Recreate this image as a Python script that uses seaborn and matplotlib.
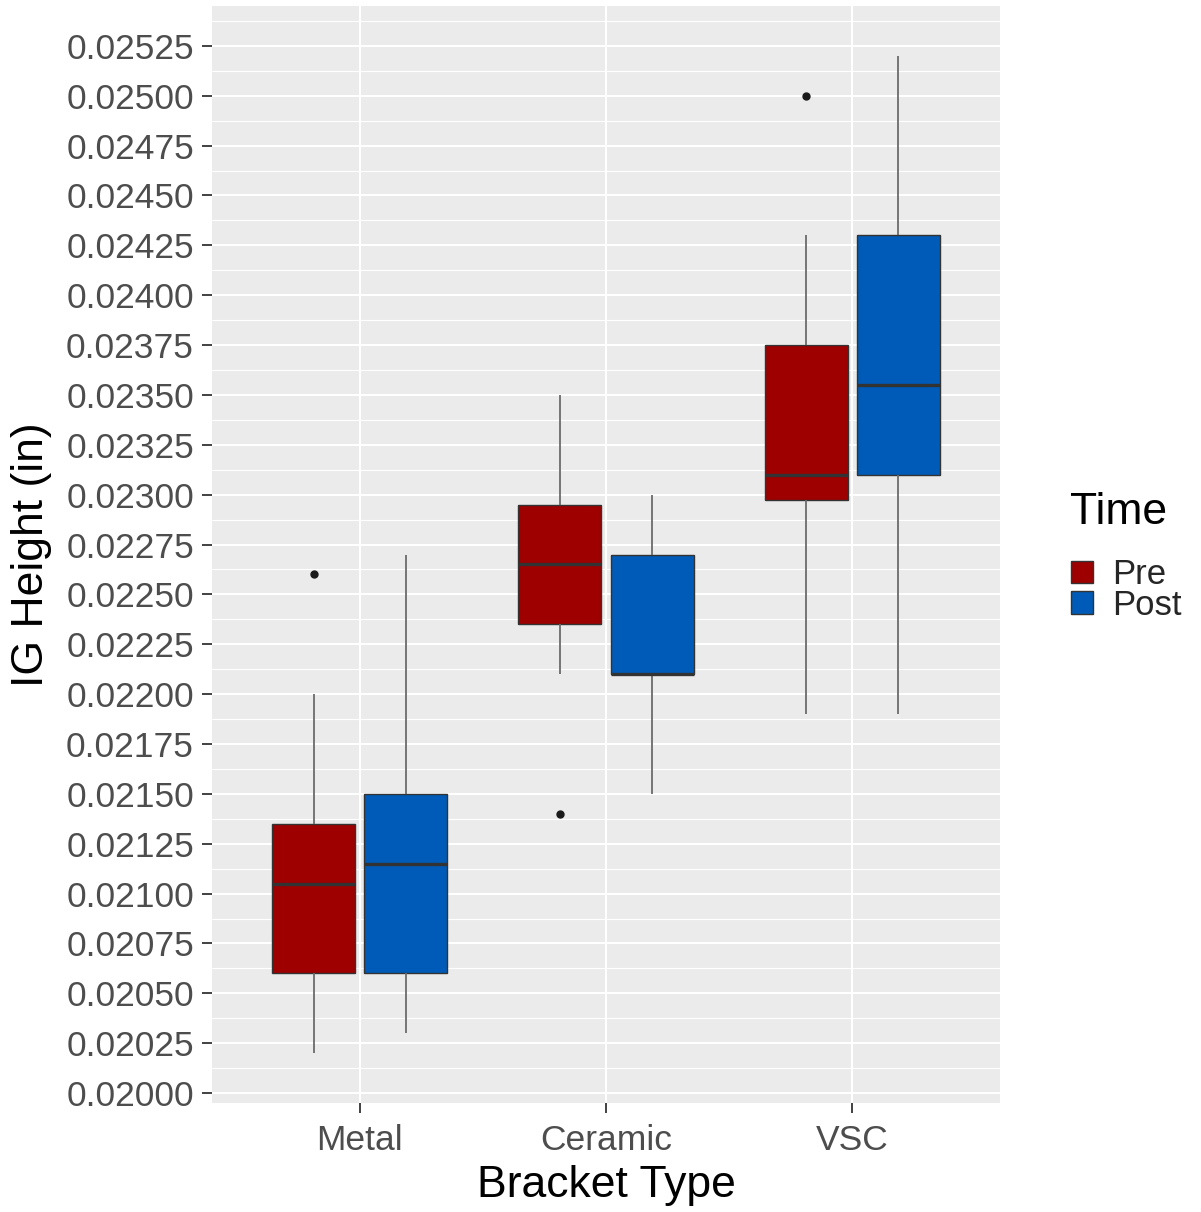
import numpy as np
import pandas as pd
import matplotlib
matplotlib.use("Agg")
import matplotlib.pyplot as plt
import seaborn as sns
from matplotlib.patches import Patch
from matplotlib.ticker import MultipleLocator, FormatStrFormatter

# ---- data (samples chosen so that quartiles / whiskers / outliers match the picture) ----
categories = ["Metal", "Ceramic", "VSC"]
times = ["Pre", "Post"]

metal_pre = [0.02020, 0.02040, 0.02060, 0.02080, 0.02105, 0.02120, 0.02135, 0.02200, 0.02260]
metal_post = [0.02030, 0.02050, 0.02060, 0.02090, 0.02115, 0.02130, 0.02150, 0.02200, 0.02270]
ceramic_pre = [0.02140, 0.02210, 0.02235, 0.02250, 0.02265, 0.02280, 0.02295, 0.02320, 0.02350]
ceramic_post = [0.02150, 0.02210, 0.02210, 0.02210, 0.02210, 0.02240, 0.02270, 0.02280, 0.02300]
vsc_pre = [0.02190, 0.02280, 0.022975, 0.02300, 0.02310, 0.02340, 0.02375, 0.02430, 0.02500]
vsc_post = [0.02190, 0.02250, 0.02310, 0.02330, 0.02355, 0.02390, 0.02430, 0.02480, 0.02520]

groups = {
    ("Metal", "Pre"): metal_pre, ("Metal", "Post"): metal_post,
    ("Ceramic", "Pre"): ceramic_pre, ("Ceramic", "Post"): ceramic_post,
    ("VSC", "Pre"): vsc_pre, ("VSC", "Post"): vsc_post,
}
rows = []
for (cat, t), vals in groups.items():
    for v in vals:
        rows.append({"Bracket Type": cat, "Time": t, "IG Height (in)": v})
df = pd.DataFrame(rows)

colors = {"Pre": "#9E0000", "Post": "#005BB8"}

# ---- figure ----
sns.set_style("white")
plt.rcParams["font.family"] = ["Liberation Sans", "DejaVu Sans"]

fig = plt.figure(figsize=(12.01, 12.12), dpi=100)
W, H = 1201, 1212
ax = fig.add_axes([212 / W, (H - 1103) / H, (1000 - 212) / W, (1103 - 6) / H])
ax.set_facecolor("#EBEBEB")

sns.boxplot(
    data=df, x="Bracket Type", y="IG Height (in)", hue="Time",
    order=categories, hue_order=times, palette=colors, saturation=1,
    width=0.75, gap=0.1, linecolor="#333333", linewidth=1.0,
    showcaps=False, whis=1.5, ax=ax,
    whiskerprops=dict(color="#6b6b6b", linewidth=1.3),
    medianprops=dict(color="#333333", linewidth=2.4),
    flierprops=dict(marker="o", markerfacecolor="#1a1a1a",
                    markeredgecolor="#1a1a1a", markersize=5),
)

ax.set_xlim(-0.6, 2.6)
ax.set_ylim(0.01995, 0.02545)
ax.yaxis.set_major_locator(MultipleLocator(0.00025))
ax.yaxis.set_minor_locator(MultipleLocator(0.000125))
ax.yaxis.set_major_formatter(FormatStrFormatter("%.5f"))

ax.set_axisbelow(True)
ax.grid(which="major", axis="both", color="white", linewidth=1.5)
ax.grid(which="minor", axis="y", color="white", linewidth=0.8)
for s in ax.spines.values():
    s.set_visible(False)

ax.tick_params(axis="both", which="major", length=7, width=1.3, color="#333333",
               labelsize=25.5, labelcolor="#4D4D4D", left=True, bottom=True)
ax.tick_params(axis="y", which="major", pad=6)
ax.tick_params(axis="x", which="major", pad=8)
ax.tick_params(axis="both", which="minor", length=0)

ax.set_xlabel("Bracket Type", fontsize=32, color="black", labelpad=6)
ax.set_ylabel("IG Height (in)", fontsize=32, color="black", labelpad=10)

ax.get_legend().remove()
fig.text(1070 / W, 1 - 513 / H, "Time", fontsize=32, color="black",
         ha="left", va="center")
handles = [Patch(facecolor=colors[t], edgecolor="#333333", linewidth=1.0) for t in times]
leg = fig.legend(handles, times, loc="upper left",
                 bbox_to_anchor=(1054 / W, 1 - 541 / H), frameon=False,
                 fontsize=25, handlelength=0.62, handleheight=0.62,
                 handletextpad=0.55, labelspacing=-0.08, borderpad=0)

fig.savefig("out.png", dpi=100)
